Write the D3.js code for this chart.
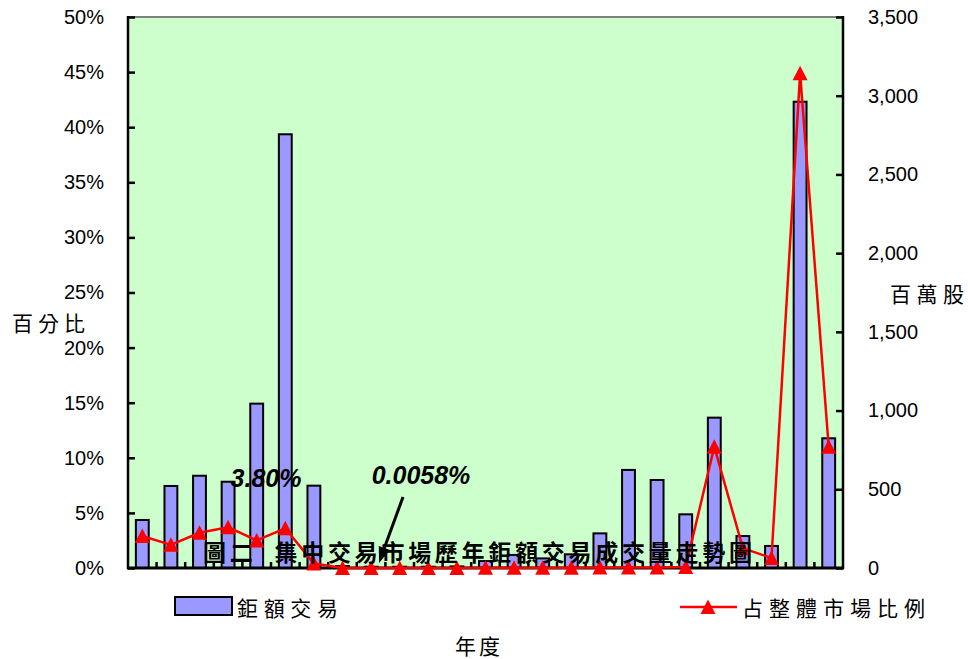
<!DOCTYPE html>
<html><head><meta charset="utf-8">
<script src="https://cdn.jsdelivr.net/npm/d3@7"></script>
<style>
html,body{margin:0;padding:0;background:#fff;}
svg{display:block;}
</style></head>
<body>
<script>
// ---- data ----
const categories = ["1","2","3","4","5","6","7","8","9","10","11","12","13","14","15","16","17","18","19","20","21","22","23","24","25"];
const volume = [305, 521, 586, 548, 1044, 2755, 523, 12, 8, 8, 8, 10, 44, 83, 61, 87, 220, 623, 559, 341, 955, 203, 140, 2962, 824];
const share = [2.9, 2.1, 3.2, 3.7, 2.5, 3.6, 0.4, 0.01, 0.0058, 0.01, 0.01, 0.01, 0.02, 0.02, 0.02, 0.02, 0.05, 0.05, 0.05, 0.1, 11.0, 1.8, 0.9, 44.9, 11.0];
const leftTicks = [0,5,10,15,20,25,30,35,40,45,50];
const rightTicks = [0,500,1000,1500,2000,2500,3000,3500];
const barName = "鉅額交易";
const lineName = "占整體市場比例";
const title = "圖二  集中交易市場歷年鉅額交易成交量走勢圖";
const leftTitle = "百分比";
const rightTitle = "百萬股";
const xTitle = "年度";
const notes = [{text:"3.80%", cat:"5"}, {text:"0.0058%", cat:"9"}];

// ---- layout ----
const W = 968, H = 659;
const L = 128, R = 843, T = 17, B = 568;
const svg = d3.select("body").append("svg").attr("width", W).attr("height", H);

const x = d3.scaleBand().domain(categories).range([L, R]).paddingInner(0).paddingOuter(0);
const yL = d3.scaleLinear().domain([0, 50]).range([B, T]);
const yR = d3.scaleLinear().domain([0, 3500]).range([B, T]);

const numFont = "'Liberation Sans', Arial, sans-serif";
const cjkFont = "'Noto Sans CJK TC', 'Noto Sans CJK SC', sans-serif";

// plot background
svg.append("rect").attr("x", L).attr("y", T).attr("width", R - L).attr("height", B - T).attr("fill", "#CCFFCC");
svg.append("line").attr("x1", L).attr("x2", R).attr("y1", T).attr("y2", T).attr("stroke", "#808080").attr("stroke-width", 2);

// bars
const bw = x.bandwidth() * 0.45;
svg.append("g").selectAll("rect").data(categories).join("rect")
  .attr("x", (d) => x(d) + (x.bandwidth() - bw) / 2)
  .attr("y", (d, i) => yR(volume[i]))
  .attr("width", bw)
  .attr("height", (d, i) => B - yR(volume[i]))
  .attr("fill", "#9999FF").attr("stroke", "#000").attr("stroke-width", 2);

// axes
const gL = svg.append("g").attr("transform", `translate(${L},0)`)
  .call(d3.axisLeft(yL).tickValues(leftTicks).tickSize(-7).tickPadding(24).tickFormat(d => d + "%"));
const gR = svg.append("g").attr("transform", `translate(${R},0)`)
  .call(d3.axisRight(yR).tickValues(rightTicks).tickSize(-7).tickPadding(25).tickFormat(d3.format(",")));
[gL, gR].forEach(g => {
  g.select(".domain").remove();
  g.selectAll(".tick line").attr("stroke", "#000").attr("stroke-width", 2.5);
  g.selectAll(".tick text").attr("font-family", numFont).attr("font-size", 20).attr("fill", "#000");
});
svg.append("line").attr("x1", L).attr("x2", L).attr("y1", T - 1).attr("y2", B + 1).attr("stroke", "#000").attr("stroke-width", 2.5);
svg.append("line").attr("x1", R).attr("x2", R).attr("y1", T - 1).attr("y2", B + 1).attr("stroke", "#000").attr("stroke-width", 2.5);

// bottom axis with boundary ticks
svg.append("g").selectAll("line").data(categories.slice(1)).join("line")
  .attr("x1", d => x(d)).attr("x2", d => x(d)).attr("y1", B).attr("y2", B - 6)
  .attr("stroke", "#000").attr("stroke-width", 2.5);
svg.append("line").attr("x1", L - 1).attr("x2", R + 1).attr("y1", B).attr("y2", B).attr("stroke", "#000").attr("stroke-width", 3);

// line + markers
const cx = d => x(d) + x.bandwidth() / 2;
const line = d3.line().x((d, i) => cx(categories[i])).y(d => yL(d));
svg.append("path").datum(share).attr("d", line).attr("fill", "none").attr("stroke", "#FF0000").attr("stroke-width", 2.5).attr("stroke-linejoin", "round");
const tri = "M0,-7.5L7.5,7L-7.5,7Z";
svg.append("g").selectAll("path").data(share).join("path")
  .attr("transform", (d, i) => `translate(${cx(categories[i])},${yL(d)})`)
  .attr("d", tri).attr("fill", "#FF0000");

// title overlay
svg.append("text").attr("x", 203).attr("y", 551).attr("dominant-baseline", "central")
  .attr("font-family", cjkFont).attr("font-weight", "bold").attr("font-size", 23)
  .attr("textLength", 549).attr("lengthAdjust", "spacing")
  .style("white-space", "pre").attr("fill", "#000").text(title);

// annotations
svg.append("text").attr("x", 266).attr("y", 487).attr("text-anchor", "middle")
  .attr("font-family", numFont).attr("font-weight", "bold").attr("font-style", "italic").attr("font-size", 25)
  .attr("fill", "#000").text(notes[0].text);
svg.append("text").attr("x", 421).attr("y", 484).attr("text-anchor", "middle")
  .attr("font-family", numFont).attr("font-weight", "bold").attr("font-style", "italic").attr("font-size", 25)
  .attr("fill", "#000").text(notes[1].text);
// arrow
const ax1 = 403, ay1 = 497, ax2 = 379, ay2 = 563;
svg.append("line").attr("x1", ax1).attr("y1", ay1).attr("x2", 384).attr("y2", 549).attr("stroke", "#000").attr("stroke-width", 3);
const ang = Math.atan2(ay2 - ay1, ax2 - ax1);
const hl = 16, hw = 6;
const bx = ax2 - hl * Math.cos(ang), by = ay2 - hl * Math.sin(ang);
svg.append("path").attr("d", `M${ax2},${ay2}L${bx + hw * Math.sin(ang)},${by - hw * Math.cos(ang)}L${bx - hw * Math.sin(ang)},${by + hw * Math.cos(ang)}Z`).attr("fill", "#000");

// axis titles
svg.append("text").attr("x", 12).attr("y", 322).attr("dominant-baseline", "central")
  .attr("font-family", cjkFont).attr("font-size", 21).attr("textLength", 73).attr("lengthAdjust", "spacing").text(leftTitle);
svg.append("text").attr("x", 890).attr("y", 293).attr("dominant-baseline", "central")
  .attr("font-family", cjkFont).attr("font-size", 21).attr("textLength", 74).attr("lengthAdjust", "spacing").text(rightTitle);
svg.append("text").attr("x", 455).attr("y", 645).attr("dominant-baseline", "central")
  .attr("font-family", cjkFont).attr("font-size", 21).attr("textLength", 45).attr("lengthAdjust", "spacing").text(xTitle);

// legend
svg.append("rect").attr("x", 175).attr("y", 597).attr("width", 57).attr("height", 18)
  .attr("fill", "#9999FF").attr("stroke", "#000").attr("stroke-width", 2);
svg.append("text").attr("x", 237).attr("y", 607).attr("dominant-baseline", "central")
  .attr("font-family", cjkFont).attr("font-size", 21).attr("textLength", 101).attr("lengthAdjust", "spacing").text(barName);
svg.append("line").attr("x1", 680).attr("x2", 737).attr("y1", 607).attr("y2", 607).attr("stroke", "#FF0000").attr("stroke-width", 2.5);
svg.append("path").attr("transform", "translate(708,607)").attr("d", tri).attr("fill", "#FF0000");
svg.append("text").attr("x", 742).attr("y", 607).attr("dominant-baseline", "central")
  .attr("font-family", cjkFont).attr("font-size", 21).attr("textLength", 183).attr("lengthAdjust", "spacing").text(lineName);
</script>
</body></html>
